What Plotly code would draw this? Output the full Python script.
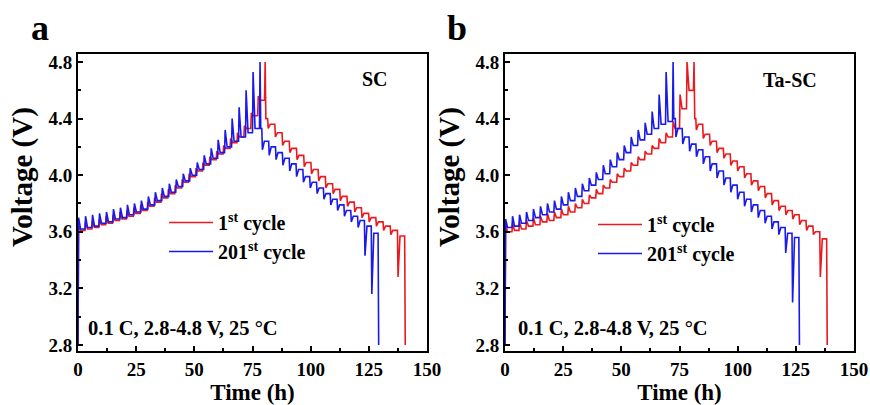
import plotly.graph_objects as go

# ---------------- data ----------------
start_v = 2.80

# Panel a (SC) - 1st cycle
a1_ch_step = 2.97
a1_ch_relax = [3.59, 3.61, 3.62, 3.63, 3.65, 3.66, 3.68, 3.69, 3.71, 3.73, 3.75, 3.78, 3.81, 3.84,
               3.87, 3.91, 3.95, 3.99, 4.03, 4.07, 4.11, 4.15, 4.19, 4.23, 4.27, 4.33, 4.42, 4.53]
a1_ch_peak = [3.66, 3.67, 3.68, 3.69, 3.71, 3.72, 3.74, 3.75, 3.77, 3.79, 3.81, 3.84, 3.87, 3.90,
              3.93, 3.97, 4.01, 4.05, 4.09, 4.13, 4.17, 4.21, 4.26, 4.30, 4.35, 4.44, 4.56, 4.80]
a1_dis_start = 81.5
a1_dis_step = 3.1
a1_dis_relax = [4.40, 4.36, 4.30, 4.24, 4.19, 4.14, 4.09, 4.04, 3.99, 3.94, 3.90, 3.85, 3.81, 3.77,
                3.73, 3.70, 3.67, 3.64, 3.61, 3.57]
a1_dis_dip = [4.33, 4.27, 4.21, 4.16, 4.11, 4.06, 4.01, 3.96, 3.91, 3.87, 3.82, 3.78, 3.74, 3.70,
              3.67, 3.64, 3.61, 3.58, 3.28, 2.80]

# Panel a (SC) - 201st cycle
a2_ch_step = 3.0
a2_ch_relax = [3.60, 3.62, 3.63, 3.64, 3.66, 3.67, 3.69, 3.70, 3.72, 3.74, 3.76, 3.79, 3.82, 3.85,
               3.88, 3.92, 3.96, 4.00, 4.04, 4.08, 4.12, 4.16, 4.20, 4.24, 4.27, 4.30, 4.33]
a2_ch_peak = [3.70, 3.71, 3.72, 3.73, 3.74, 3.76, 3.77, 3.79, 3.80, 3.82, 3.85, 3.88, 3.91, 3.94,
              3.97, 4.01, 4.05, 4.09, 4.14, 4.19, 4.25, 4.32, 4.40, 4.48, 4.60, 4.73, 4.80]
a2_dis_start = 79.0
a2_dis_step = 2.94
a2_dis_relax = [4.33, 4.24, 4.20, 4.16, 4.12, 4.08, 4.04, 3.99, 3.95, 3.91, 3.87, 3.83, 3.79, 3.75,
                3.71, 3.68, 3.64, 3.59]
a2_dis_dip = [4.18, 4.14, 4.11, 4.07, 4.03, 3.99, 3.95, 3.91, 3.87, 3.83, 3.79, 3.75, 3.71, 3.67,
              3.63, 3.43, 3.16, 2.80]

# Panel b (Ta-SC) - 1st cycle
b1_ch_step = 3.0
b1_ch_relax = [3.59, 3.60, 3.61, 3.62, 3.64, 3.65, 3.67, 3.68, 3.70, 3.72, 3.74, 3.77, 3.80, 3.84,
               3.87, 3.91, 3.95, 3.99, 4.03, 4.07, 4.11, 4.15, 4.19, 4.23, 4.27, 4.33, 4.47, 4.60]
b1_ch_peak = [3.65, 3.66, 3.67, 3.68, 3.70, 3.71, 3.73, 3.74, 3.76, 3.78, 3.80, 3.83, 3.86, 3.90,
              3.93, 3.97, 4.01, 4.05, 4.09, 4.13, 4.17, 4.21, 4.26, 4.30, 4.38, 4.57, 4.80, 4.80]
b1_dis_start = 82.0
b1_dis_step = 2.96
b1_dis_relax = [4.40, 4.36, 4.29, 4.24, 4.19, 4.15, 4.10, 4.06, 4.01, 3.96, 3.92, 3.87, 3.82, 3.78,
                3.75, 3.72, 3.68, 3.64, 3.60, 3.55]
b1_dis_dip = [4.32, 4.26, 4.21, 4.16, 4.12, 4.07, 4.03, 3.98, 3.93, 3.89, 3.84, 3.79, 3.75, 3.72,
              3.69, 3.65, 3.61, 3.58, 3.28, 2.80]

# Panel b (Ta-SC) - 201st cycle
b2_ch_step = 3.0
b2_ch_relax = [3.61, 3.63, 3.64, 3.66, 3.68, 3.70, 3.72, 3.74, 3.76, 3.79, 3.82, 3.85, 3.89, 3.93,
               3.97, 4.01, 4.06, 4.11, 4.16, 4.21, 4.25, 4.29, 4.33, 4.36, 4.38]
b2_ch_peak = [3.69, 3.71, 3.72, 3.74, 3.76, 3.78, 3.80, 3.82, 3.85, 3.88, 3.91, 3.94, 3.98, 4.02,
              4.07, 4.11, 4.16, 4.21, 4.27, 4.32, 4.37, 4.45, 4.57, 4.73, 4.80]
b2_dis_start = 73.2
b2_dis_step = 2.95
b2_dis_relax = [4.40, 4.33, 4.27, 4.22, 4.18, 4.13, 4.08, 4.03, 3.98, 3.93, 3.88, 3.83, 3.79, 3.75,
                3.71, 3.67, 3.63, 3.59, 3.56]
b2_dis_dip = [4.27, 4.22, 4.17, 4.13, 4.08, 4.03, 3.98, 3.93, 3.88, 3.83, 3.78, 3.74, 3.70, 3.66,
              3.62, 3.58, 3.45, 3.10, 2.80]

x_ticks = [0, 25, 50, 75, 100, 125, 150]
y_ticks = [2.8, 3.2, 3.6, 4.0, 4.4, 4.8]
series_names = ["1<sup>st</sup> cycle", "201<sup>st</sup> cycle"]
panel_names = ["SC", "Ta-SC"]
panel_letters = ["a", "b"]
x_title = "Time (h)"
y_title = "Voltage (V)"
condition_text = "0.1 C, 2.8-4.8 V, 25 °C"

RED = "rgb(235,25,30)"
BLUE = "rgb(25,25,235)"
PULSE = 0.25   # pulse duration (h)
RELAX = 1.1    # time to relax (h)


def build(ch_step, ch_relax, ch_peak, dis_start, dis_step, dis_relax, dis_dip):
    t, v = [0.0], [start_v]
    n = len(ch_relax)
    for k in range(n):
        t0 = k * ch_step
        t.append(t0); v.append(ch_relax[k])
        t.append(t0 + PULSE); v.append(ch_peak[k])
        if k < n - 1:
            t.append(t0 + RELAX); v.append(ch_relax[k + 1])
    t_end = (n - 1) * ch_step + PULSE
    t.append(t_end + 0.3); v.append(dis_relax[0])
    m = len(dis_relax)
    for j in range(m):
        t0 = dis_start + j * dis_step
        t.append(t0); v.append(dis_relax[j])
        t.append(t0 + PULSE); v.append(dis_dip[j])
        if j < m - 1:
            t.append(t0 + RELAX); v.append(dis_relax[j + 1])
    return t, v


fig = go.Figure()
panels = [
    [(a1_ch_step, a1_ch_relax, a1_ch_peak, a1_dis_start, a1_dis_step, a1_dis_relax, a1_dis_dip),
     (a2_ch_step, a2_ch_relax, a2_ch_peak, a2_dis_start, a2_dis_step, a2_dis_relax, a2_dis_dip)],
    [(b1_ch_step, b1_ch_relax, b1_ch_peak, b1_dis_start, b1_dis_step, b1_dis_relax, b1_dis_dip),
     (b2_ch_step, b2_ch_relax, b2_ch_peak, b2_dis_start, b2_dis_step, b2_dis_relax, b2_dis_dip)],
]
colors = [RED, BLUE]
for p, pdata in enumerate(panels):
    xa = "x" if p == 0 else "x2"
    ya = "y" if p == 0 else "y2"
    lg = "legend" if p == 0 else "legend2"
    for s, args in enumerate(pdata):
        tt, vv = build(*args)
        fig.add_trace(go.Scatter(x=tt, y=vv, mode="lines", name=series_names[s],
                                 line=dict(color=colors[s], width=1.6),
                                 xaxis=xa, yaxis=ya, legend=lg))

FONT = "Liberation Serif, Times New Roman, serif"
W, H = 870, 405


def px(x):
    return x / W


def py(y):
    return 1 - y / H


ax_common = dict(showline=True, linecolor="black", linewidth=2, mirror=True,
                 ticks="inside", ticklen=5, tickwidth=2, tickcolor="black",
                 showgrid=False, zeroline=False, automargin=False,
                 ticklabeloverflow="allow",
                 tickfont=dict(family=FONT, size=19, color="black", weight="bold"))
xdom = [[px(78), px(427)], [px(505), px(854)]]
ydom = [py(351), py(54)]

for p in range(2):
    sfx = "" if p == 0 else "2"
    fig.layout["xaxis" + sfx] = dict(
        ax_common, domain=xdom[p], range=[0, 150], tickvals=x_ticks,
        anchor="y" + sfx,
        minor=dict(ticks="inside", ticklen=3, tickwidth=1.5, dtick=12.5, tick0=0, tickcolor="black"),
        title=dict(text=x_title, font=dict(family=FONT, size=23, color="black", weight="bold"),
                   standoff=0))
    fig.layout["yaxis" + sfx] = dict(
        ax_common, domain=ydom, range=[2.757, 4.857], tickvals=y_ticks, tickformat=".1f",
        anchor="x" + sfx,
        minor=dict(ticks="inside", ticklen=3, tickwidth=1.5, dtick=0.2, tick0=2.8, tickcolor="black"))

legfont = dict(family=FONT, size=20, color="black", weight="bold")
fig.update_layout(
    width=W, height=H, margin=dict(l=0, r=0, t=0, b=0),
    paper_bgcolor="white", plot_bgcolor="white",
    legend=dict(x=px(164), y=py(203), xanchor="left", yanchor="top", font=legfont,
                bgcolor="rgba(0,0,0,0)", itemwidth=44, tracegroupgap=0),
    legend2=dict(x=px(593), y=py(205), xanchor="left", yanchor="top", font=legfont,
                 bgcolor="rgba(0,0,0,0)", itemwidth=44, tracegroupgap=0),
    showlegend=True,
)

titlefont = dict(family=FONT, size=29, color="black", weight="bold")
for xpos in (22, 449):
    fig.add_annotation(text=y_title, xref="paper", yref="paper", x=px(xpos), y=py(177),
                       textangle=-90, showarrow=False, font=titlefont,
                       xanchor="center", yanchor="middle")

annfont = dict(family=FONT, size=20, color="black", weight="bold")
fig.add_annotation(text=panel_names[0], xref="paper", yref="paper", x=px(375), y=py(79),
                   showarrow=False, font=annfont, xanchor="center", yanchor="middle")
fig.add_annotation(text=panel_names[1], xref="paper", yref="paper", x=px(790), y=py(80),
                   showarrow=False, font=annfont, xanchor="center", yanchor="middle")
condfont = dict(family=FONT, size=20.5, color="black", weight="bold")
fig.add_annotation(text=condition_text, xref="paper", yref="paper", x=px(86), y=py(328),
                   showarrow=False, font=condfont, xanchor="left", yanchor="middle")
fig.add_annotation(text=condition_text, xref="paper", yref="paper", x=px(516), y=py(328),
                   showarrow=False, font=condfont, xanchor="left", yanchor="middle")
labfont = dict(family=FONT, size=36, color="black", weight="bold")
fig.add_annotation(text=panel_letters[0], xref="paper", yref="paper", x=px(40), y=py(28),
                   showarrow=False, font=labfont, xanchor="center", yanchor="middle")
fig.add_annotation(text=panel_letters[1], xref="paper", yref="paper", x=px(457), y=py(28),
                   showarrow=False, font=labfont, xanchor="center", yanchor="middle")

# remove the default page margin so the figure fills the 870x405 window exactly
fig.write_html("out.html", config={"displayModeBar": False},
               post_script="document.body.style.margin='0';document.body.style.overflow='hidden';")
